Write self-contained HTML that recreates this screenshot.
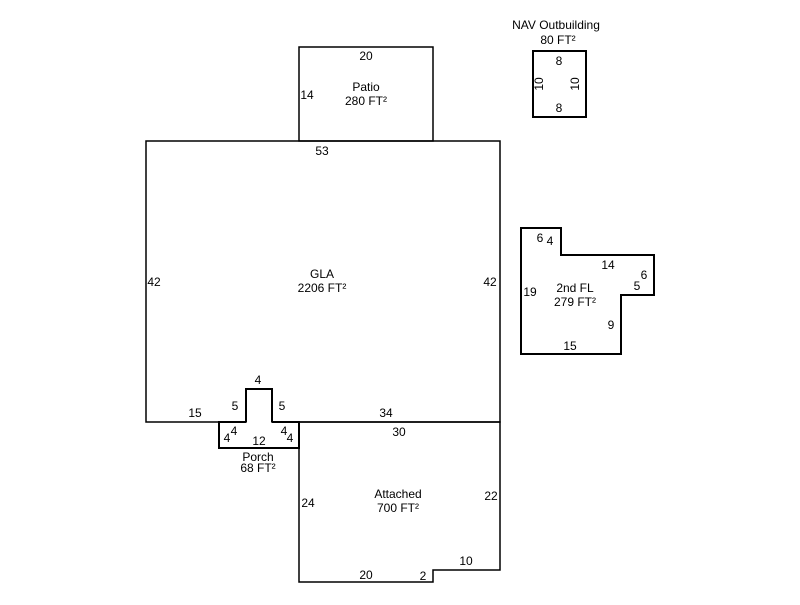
<!DOCTYPE html>
<html><head><style>body{margin:0;background:#fff}svg text{font-family:"Liberation Sans",Arial,sans-serif;font-size:12px;fill:#000}</style></head>
<body>
<svg width="800" height="600" xmlns="http://www.w3.org/2000/svg">
<g fill="none" stroke="#000" stroke-width="2">
<path d="M146,141 H500 V422 H272 V389 H246 V422 H146 Z" stroke-width="1.5"/>
<rect x="299" y="47" width="134" height="94" stroke-width="1.5"/>
<rect x="533" y="51" width="53" height="66"/>
<path d="M521,228 H561 V255 H654 V295 H621 V354 H521 Z"/>
<path d="M246,422 H219 V448 H299 V422 H272"/>
<path d="M299,422 H500 V570 H433 V582 H299 Z" stroke-width="1.5"/>
<path d="M246,422 V389 H272 V422" />
</g>
<g text-anchor="middle">
<text x="366" y="60">20</text>
<text x="307" y="99">14</text>
<text x="366" y="91">Patio</text>
<text x="366" y="105">280 FT²</text>
<text x="556" y="29">NAV Outbuilding</text>
<text x="558" y="44">80 FT²</text>
<text x="559" y="65">8</text>
<text x="559" y="112">8</text>
<text transform="translate(543,84) rotate(-90)">10</text>
<text transform="translate(579,84) rotate(-90)">10</text>
<text x="322" y="155">53</text>
<text x="154" y="286">42</text>
<text x="490" y="286">42</text>
<text x="322" y="278">GLA</text>
<text x="322" y="292">2206 FT²</text>
<text x="258" y="384">4</text>
<text x="235" y="410">5</text>
<text x="282" y="410">5</text>
<text x="195" y="417">15</text>
<text x="386" y="417">34</text>
<text x="399" y="436">30</text>
<text x="227" y="442">4</text>
<text x="234" y="435">4</text>
<text x="259" y="445">12</text>
<text x="284" y="435">4</text>
<text x="290" y="442">4</text>
<text x="258" y="461">Porch</text>
<text x="258" y="472">68 FT²</text>
<text x="398" y="498">Attached</text>
<text x="398" y="512">700 FT²</text>
<text x="308" y="507">24</text>
<text x="491" y="500">22</text>
<text x="466" y="565">10</text>
<text x="366" y="579">20</text>
<text x="423" y="580">2</text>
<text x="540" y="242">6</text>
<text x="550" y="245">4</text>
<text x="608" y="269">14</text>
<text x="644" y="279">6</text>
<text x="637" y="290">5</text>
<text x="530" y="296">19</text>
<text x="575" y="292">2nd FL</text>
<text x="575" y="306">279 FT²</text>
<text x="611" y="329">9</text>
<text x="570" y="350">15</text>
</g>
</svg>
</body></html>
